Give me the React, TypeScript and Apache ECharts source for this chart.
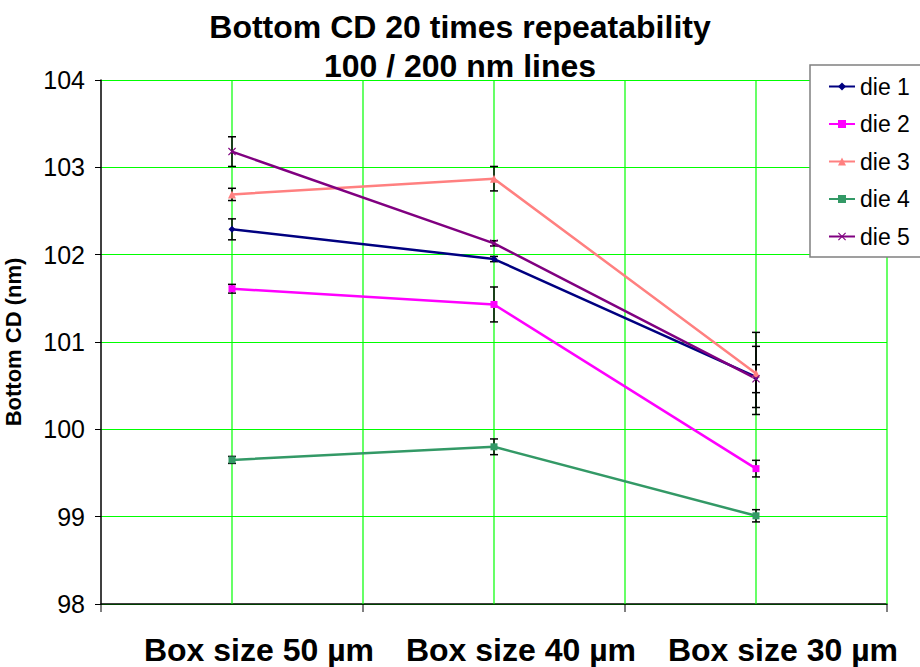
import React, { useEffect, useRef } from "react";
import * as echarts from "echarts";

const categories = ["Box size 50 µm", "Box size 40 µm", "Box size 30 µm"];
const xPositions = [0.5, 1.5, 2.5];
const xBoundaries = [0, 1, 2, 3];
const xGridLines = [0.5, 1, 1.5, 2, 2.5, 3];
const seriesNames = ["die 1", "die 2", "die 3", "die 4", "die 5"];
const die1 = [102.29, 101.95, 100.6];
const die2 = [101.61, 101.43, 99.55];
const die3 = [102.69, 102.87, 100.64];
const die4 = [99.65, 99.8, 99.01];
const die5 = [103.18, 102.13, 100.58];
const err1 = [0.12, 0.03, 0.35];
const err2 = [0.05, 0.2, 0.095];
const err3 = [0.07, 0.14, 0.47];
const err4 = [0.04, 0.09, 0.07];
const err5 = [0.17, 0.03, 0.16];
const yTicks = [98, 99, 100, 101, 102, 103, 104];

const colors = ["#000080", "#FF00FF", "#FF8080", "#339966", "#800080"];
const symbols = [
  "diamond",
  "rect",
  "triangle",
  "rect",
  "path://M0,1L1,0L5,4L9,0L10,1L6,5L10,9L9,10L5,6L1,10L0,9L4,5Z",
];
const symbolSizes = [7, 7, 8, 7, 8];

export default function App() {
  const ref = useRef<HTMLDivElement>(null);
  useEffect(() => {
    if (!ref.current) return;
    const chart = echarts.init(ref.current, undefined, { renderer: "svg" });
    const values = [die1, die2, die3, die4, die5];
    const errs = [err1, err2, err3, err4, err5];
    const font = "Liberation Sans, Arial, sans-serif";
    const yMin = yTicks[0];
    const yMax = yTicks[yTicks.length - 1];

    const lineSeries = values.map((vals, i) => ({
      name: seriesNames[i],
      type: "line",
      data: vals.map((v, j) => [xPositions[j], v]),
      symbol: symbols[i],
      symbolSize: symbolSizes[i],
      showAllSymbol: true,
      lineStyle: { color: colors[i], width: 2.5 },
      itemStyle: { color: colors[i] },
      z: 4,
    }));

    const errSeries = values.map((vals, i) => ({
      name: "err " + seriesNames[i],
      type: "custom",
      z: 3,
      silent: true,
      data: vals.map((v, j) => [xPositions[j], v, errs[i][j]]),
      renderItem: (params: any, api: any) => {
        const x = api.value(0);
        const v = api.value(1);
        const e = api.value(2);
        const top = api.coord([x, v + e]);
        const bot = api.coord([x, v - e]);
        const hw = 4;
        const style = { stroke: "#000", lineWidth: 1.5 };
        return {
          type: "group",
          children: [
            { type: "line", shape: { x1: top[0], y1: top[1], x2: bot[0], y2: bot[1] }, style },
            { type: "line", shape: { x1: top[0] - hw, y1: top[1], x2: top[0] + hw, y2: top[1] }, style },
            { type: "line", shape: { x1: bot[0] - hw, y1: bot[1], x2: bot[0] + hw, y2: bot[1] }, style },
          ],
        };
      },
    }));

    const tickSeries = {
      name: "xticks",
      type: "custom",
      z: 5,
      silent: true,
      clip: false,
      data: xBoundaries.map((x) => [x, yMin]),
      renderItem: (params: any, api: any) => {
        const p = api.coord([api.value(0), api.value(1)]);
        return {
          type: "line",
          shape: { x1: p[0], y1: p[1], x2: p[0], y2: p[1] + 8 },
          style: { stroke: "#000", lineWidth: 1 },
        };
      },
    };

    const vGridSeries = {
      name: "vgrid",
      type: "custom",
      z: 2,
      silent: true,
      clip: false,
      data: xGridLines.map((x) => [x, yMin, yMax]),
      renderItem: (params: any, api: any) => {
        const x = api.value(0);
        const b = api.coord([x, api.value(1)]);
        const t = api.coord([x, api.value(2)]);
        return {
          type: "line",
          shape: { x1: b[0], y1: b[1], x2: t[0], y2: t[1] },
          style: { stroke: "#00ff00", lineWidth: 1.2 },
        };
      },
    };

    chart.setOption({
      animation: false,
      backgroundColor: "#ffffff",
      title: {
        text: "Bottom CD 20 times repeatability\n100 / 200 nm lines",
        left: "center",
        top: 2,
        textStyle: {
          fontFamily: font,
          fontWeight: "bold",
          fontSize: 32,
          lineHeight: 39,
          color: "#000",
        },
      },
      grid: {
        left: 101,
        right: 33,
        top: 80,
        bottom: 63,
        containLabel: false,
        outerBoundsMode: "none",
      },
      graphic: [
        {
          type: "rect",
          z: 10,
          shape: { x: 810, y: 65, width: 130, height: 192 },
          style: { fill: "#fff", stroke: "#808080", lineWidth: 1.5 },
        },
      ],
      legend: {
        orient: "vertical",
        left: 823,
        top: 70,
        z: 11,
        data: seriesNames,
        itemWidth: 26,
        itemHeight: 10,
        itemGap: 14.5,
        textStyle: { fontFamily: font, fontSize: 23, color: "#000" },
      },
      xAxis: {
        type: "value",
        min: 0,
        max: 3,
        interval: 0.5,
        axisLine: { show: true, onZero: false, lineStyle: { color: "#000", width: 1.5 } },
        axisTick: { show: false },
        axisLabel: {
          customValues: xPositions,
          formatter: (val: number) => {
            const idx = xPositions.indexOf(val);
            return idx >= 0 ? categories[idx] : "";
          },
          fontFamily: font,
          fontWeight: "bold",
          fontSize: 32,
          color: "#000",
          margin: 30,
          padding: [0, 0, 0, 54],
          showMinLabel: true,
          showMaxLabel: true,
        },
        splitLine: { show: false },
      },
      yAxis: {
        type: "value",
        min: yMin,
        max: yMax,
        interval: 1,
        name: "Bottom CD (nm)",
        nameLocation: "middle",
        nameGap: 77,
        nameTextStyle: { fontFamily: font, fontWeight: "bold", fontSize: 22, color: "#000" },
        axisLine: { show: true, onZero: false, lineStyle: { color: "#000", width: 1.5 } },
        axisTick: { show: true, inside: false, length: 6, lineStyle: { color: "#000" } },
        axisLabel: { fontFamily: font, fontSize: 25, color: "#000", margin: 16 },
        splitLine: { show: true, lineStyle: { color: "#00ff00", width: 1 } },
      },
      series: [vGridSeries, ...errSeries, ...lineSeries, tickSeries],
    });
    return () => chart.dispose();
  }, []);
  return <div ref={ref} style={{ width: 920, height: 667, position: "absolute", left: 0, top: 0 }} />;
}
